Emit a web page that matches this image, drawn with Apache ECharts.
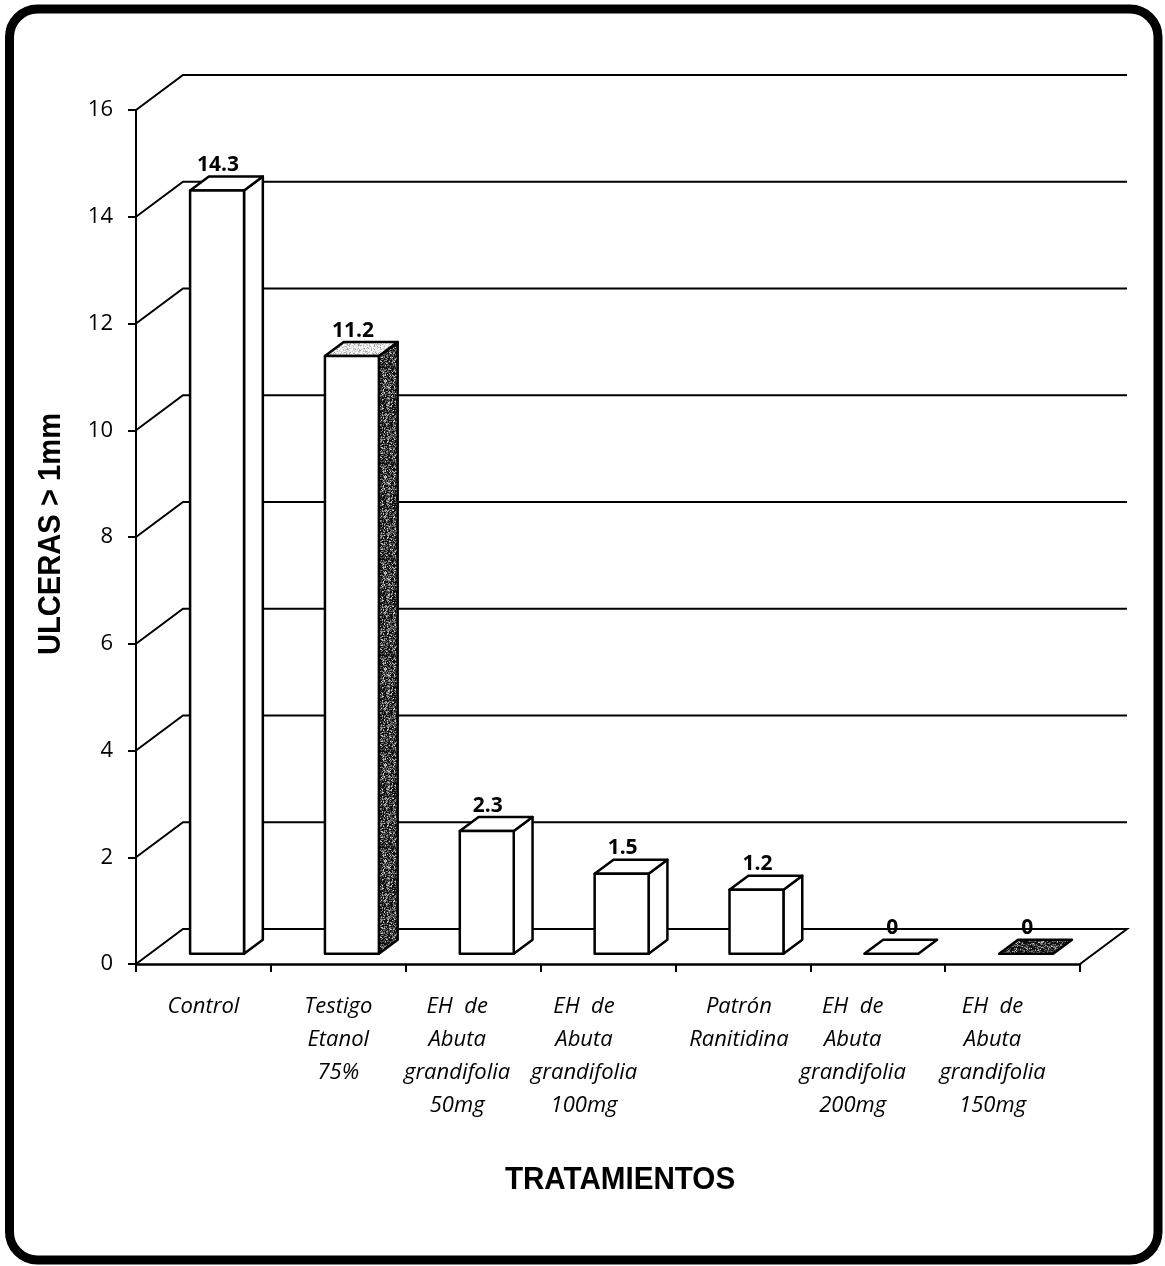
<!DOCTYPE html>
<html>
<head>
<meta charset="utf-8">
<title>Úlceras por tratamiento</title>
<script src="https://cdn.jsdelivr.net/npm/echarts@6/dist/echarts.min.js"></script>
<style>
  html, body { margin: 0; padding: 0; background: #fff; }
  #chart { width: 1165px; height: 1266px; }
</style>
</head>
<body>
<div id="chart"></div>
<script>
// ---- data ----
const categories = [
  'Control',
  'Testigo\nEtanol\n75%',
  'EH  de\nAbuta\ngrandifolia\n50mg',
  'EH  de\nAbuta\ngrandifolia\n100mg',
  'Patrón\nRanitidina',
  'EH  de\nAbuta\ngrandifolia\n200mg',
  'EH  de\nAbuta\ngrandifolia\n150mg'
];
const ulcerValues = [14.3, 11.2, 2.3, 1.5, 1.2, 0, 0];
const yTickValues = [0, 2, 4, 6, 8, 10, 12, 14, 16];
const yAxisTitle = 'ULCERAS > 1mm';
const xAxisTitle = 'TRATAMIENTOS';

// ---- pseudo-3D geometry and styling ----
const DEPTH_X = 47;      // horizontal offset of the back wall
const DEPTH_Y = 35;      // vertical offset of the back wall
const FRONT_F = 0.29;    // depth fraction of the bar front faces
const BACK_F = 0.69;     // depth fraction of the bar back faces
const BAR_RATIO = 0.40;  // bar width relative to the category band
const LABEL_SHIFT = [0, 0, 16, 24, 4, 25, 20]; // left shift of category labels

// grainy fill used for the shaded bar faces (deterministic hash speckle)
function grain(palette, weights, seed) {
  const N = 96;
  const c = document.createElement('canvas');
  c.width = c.height = N;
  const g = c.getContext('2d');
  const img = g.createImageData(N, N);
  const total = weights.reduce((a, b) => a + b, 0);
  for (let y = 0; y < N; y++) {
    for (let x = 0; x < N; x++) {
      let h = Math.imul(x * 374761393 + y * 668265263 + seed * 2246822519, 1274126177);
      h = Math.imul(h ^ (h >>> 13), 1274126177);
      h = (h ^ (h >>> 16)) >>> 0;
      let r = (h % 1000) / 1000 * total, k = 0;
      while (r >= weights[k]) { r -= weights[k]; k++; }
      const v = palette[k];
      const p = (y * N + x) * 4;
      img.data[p] = img.data[p + 1] = img.data[p + 2] = v;
      img.data[p + 3] = 255;
    }
  }
  g.putImageData(img, 0, 0);
  return { image: c, repeat: 'repeat' };
}
const darkGrain = grain([15, 70, 130, 200], [45, 25, 20, 10], 3);
const lightGrain = grain([255, 230, 200, 160], [40, 30, 20, 10], 9);

const faceStyles = [
  { front: '#fff', side: '#fff', top: '#fff' },
  { front: '#fff', side: darkGrain, top: lightGrain },
  { front: '#fff', side: '#fff', top: '#fff' },
  { front: '#fff', side: '#fff', top: '#fff' },
  { front: '#fff', side: '#fff', top: '#fff' },
  { front: '#fff', side: '#fff', top: '#fff' },
  { front: '#fff', side: darkGrain, top: darkGrain }
];

const STROKE = '#000';

function renderWall(params, api) {
  const v = api.value(1);
  const cs = params.coordSys;
  const y = api.coord([0, v])[1];
  const x0 = cs.x, x1 = cs.x + cs.width;
  const pts = [[x0, y], [x0 + DEPTH_X, y - DEPTH_Y], [x1 + DEPTH_X, y - DEPTH_Y]];
  if (v === 0) pts.push([x1, y]);
  return {
    type: 'polyline',
    shape: { points: pts },
    style: { stroke: STROKE, lineWidth: 2, fill: 'none' },
    silent: true
  };
}

function renderBar(params, api) {
  const i = api.value(0), v = api.value(1);
  const base = api.coord([i, 0]);
  const top = api.coord([i, v]);
  const band = api.size([1, 0])[0];
  const w = band * BAR_RATIO;
  const ox = DEPTH_X * FRONT_F, oy = DEPTH_Y * FRONT_F;
  const bx = DEPTH_X * (BACK_F - FRONT_F), by = DEPTH_Y * (BACK_F - FRONT_F);
  const fl = base[0] - w / 2 + ox, fr = fl + w;
  const fb = base[1] - oy, ft = top[1] - oy;
  const st = faceStyles[params.dataIndex];
  const line = { stroke: STROKE, lineWidth: 2.5, lineJoin: 'round' };
  const children = [];
  if (fb - ft > 0.5) {
    children.push({
      type: 'polygon',
      shape: { points: [[fr, fb], [fr + bx, fb - by], [fr + bx, ft - by], [fr, ft]] },
      style: Object.assign({ fill: st.side }, line)
    });
  }
  children.push({
    type: 'polygon',
    shape: { points: [[fl, ft], [fl + bx, ft - by], [fr + bx, ft - by], [fr, ft]] },
    style: Object.assign({ fill: st.top }, line)
  });
  if (fb - ft > 0.5) {
    children.push({
      type: 'rect',
      shape: { x: fl, y: ft, width: w, height: fb - ft },
      style: Object.assign({ fill: st.front }, line)
    });
  }
  children.push({
    type: 'text',
    style: {
      text: String(ulcerValues[params.dataIndex]),
      x: (fl + fr) / 2 + 1,
      y: ft - by - 1,
      align: 'center',
      verticalAlign: 'bottom',
      fill: '#000',
      font: 'bold 21px "Open Sans", sans-serif'
    }
  });
  return { type: 'group', children };
}

const chart = echarts.init(document.getElementById('chart'), null, { renderer: 'canvas' });

chart.setOption({
  backgroundColor: '#fff',
  animation: false,
  grid: { left: 136, right: 85, top: 110, bottom: 302, containLabel: false },
  xAxis: {
    type: 'category',
    data: categories,
    boundaryGap: true,
    axisLine: { show: true, lineStyle: { color: STROKE, width: 2.5 } },
    axisTick: { show: true, length: 8, lineStyle: { color: STROKE, width: 2 } },
    axisLabel: {
      interval: 0,
      margin: 26,
      formatter: (val, idx) => val.split('\n').map(s => '{c' + idx + '|' + s + '}').join('\n'),
      rich: Object.fromEntries(LABEL_SHIFT.map((s, k) => ['c' + k, {
        fontFamily: '"Open Sans", sans-serif',
        fontStyle: 'italic',
        fontSize: 22,
        lineHeight: 33,
        color: '#000',
        padding: [0, s * 2, 0, 0]
      }]))
    },
    splitLine: { show: false }
  },
  yAxis: {
    type: 'value',
    min: yTickValues[0],
    max: yTickValues[yTickValues.length - 1],
    interval: yTickValues[1] - yTickValues[0],
    axisLine: { show: true, lineStyle: { color: STROKE, width: 2 } },
    axisTick: { show: true, length: 8, lineStyle: { color: STROKE, width: 2 } },
    axisLabel: {
      margin: 23,
      color: '#000',
      fontFamily: '"Open Sans", sans-serif',
      fontSize: 22
    },
    splitLine: { show: false }
  },
  graphic: [
    {
      type: 'rect',
      shape: { x: 9.5, y: 9, width: 1148.5, height: 1251, r: 28 },
      style: { fill: 'none', stroke: '#000', lineWidth: 9 },
      z: 100
    },
    {
      type: 'text',
      x: 51, y: 534,
      rotation: Math.PI / 2,
      scaleX: 0.94,
      style: {
        text: yAxisTitle,
        align: 'center',
        verticalAlign: 'middle',
        fill: '#000',
        font: 'bold 31px "Liberation Sans", Arial, sans-serif'
      }
    },
    {
      type: 'text',
      x: 620, y: 1180,
      scaleX: 0.955,
      style: {
        text: xAxisTitle,
        align: 'center',
        verticalAlign: 'middle',
        fill: '#000',
        font: 'bold 31px "Liberation Sans", Arial, sans-serif'
      }
    }
  ],
  series: [
    {
      type: 'custom',
      name: 'pared',
      renderItem: renderWall,
      data: yTickValues.map(v => [0, v]),
      encode: { x: 0, y: 1 },
      z: 1,
      silent: true
    },
    {
      type: 'custom',
      name: 'ulceras',
      renderItem: renderBar,
      data: ulcerValues.map((v, i) => [i, v]),
      encode: { x: 0, y: 1 },
      z: 5
    }
  ]
});
</script>
</body>
</html>
